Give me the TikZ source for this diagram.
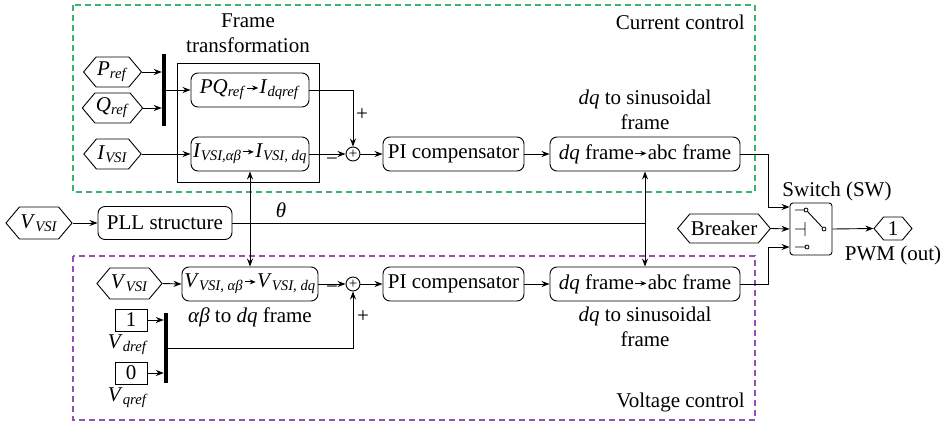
\documentclass[tikz,border=0pt]{standalone}
\usepackage{fontspec}
\setmainfont{Liberation Serif}
\usepackage{tikz}
\usetikzlibrary{shapes, arrows.meta, positioning, calc}
\definecolor{ccgreen}{RGB}{60,180,110}
\definecolor{vcpurple}{RGB}{150,80,180}
\newcommand{\sig}[2]{\textit{#1}\textsubscript{\textit{#2}}}
\newcommand{\tfarrow}{\hspace{1pt}\tikz[baseline=-0.6ex]\draw[-{Stealth[length=6pt,width=5pt]}, line width=0.9pt] (0pt,0pt) -- (11pt,0pt);\hspace{1pt}}

\begin{document}
\begin{tikzpicture}[x=1pt, y=-1pt,
			font=\fontsize{21}{25}\selectfont,
			block/.style={rectangle, draw, rounded corners=7pt, minimum height=34pt, inner sep=1pt, line width=0.9pt},
			port/.style={signal, signal to=east and west, signal pointer angle=100, draw, minimum height=30pt, inner xsep=1pt, inner ysep=0pt, line width=0.9pt},
			mux/.style={rectangle, fill=black, minimum width=4pt, inner sep=0pt},
			sum/.style={circle, draw, minimum size=14pt, inner sep=0pt, line width=0.9pt, font=\fontsize{15}{15}\selectfont},
			const/.style={rectangle, draw, minimum width=32pt, minimum height=22pt, inner sep=0pt, line width=0.9pt},
			lbl/.style={align=center, inner sep=0pt},
			arrow/.style={-{Stealth[length=8pt,width=6pt]}, line width=0.9pt},
			biarrow/.style={{Stealth[length=8pt,width=6pt]}-{Stealth[length=8pt,width=6pt]}, line width=0.9pt}
			]
			\useasboundingbox (0,0) rectangle (945,426);
			
			% Control groups
			\draw[draw=ccgreen, line width=1.2pt, dash pattern=on 6pt off 4pt] (73,5) rectangle (755,192);
			\draw[draw=vcpurple, line width=1.2pt, dash pattern=on 6pt off 4pt] (73,256) rectangle (755,420);
			\node[lbl, anchor=east] (cclbl) at (745,22) {Current control};
			\node[lbl, anchor=east] (vclbl) at (745,402) {Voltage control};
			
			% Frame transformation (current loop)
			\node[draw, line width=0.9pt, minimum width=142pt, minimum height=119pt, inner sep=0pt] (ft) at (248,122.5) {};
			\node[lbl] (ftlbl) at (248,33) {Frame\\transformation};
			\node[port, minimum width=55pt] (pref) at (112.5,72) {\sig{P}{ref}};
			\node[port, minimum width=55pt] (qref) at (112.5,108) {\sig{Q}{ref}};
			\node[mux, minimum height=72pt] (mux1) at (164,90) {};
			\node[block, minimum width=118pt] (pq) at (250,90) {\sig{PQ}{ref}\tfarrow\sig{I}{dqref}};
			\node[port, minimum width=55pt] (ivsi) at (112.5,154) {\sig{I}{VSI}};
			\node[block, minimum width=118pt] (iab) at (250,154) {\sig{I}{VSI,αβ}\tfarrow\sig{I}{VSI, dq}};
			\node[sum] (sum1) at (353,154) {+};
			\node[lbl] (p1) at (362,115) {+};
			\node[lbl] (m1) at (332,162) {−};
			\node[block, minimum width=141pt] (pi1) at (453.5,154) {PI compensator};
			\node[block, minimum width=190pt] (dq1) at (645,154) {\textit{dq} frame\tfarrow abc frame};
			\node[lbl] (dq1lbl) at (645,110) {\textit{dq} to sinusoidal\\frame};
			
			% PLL
			\node[port, minimum width=58pt, minimum height=32pt] (vvsi) at (39,223) {\sig{V}{VSI}};
			\node[block, minimum width=134pt, minimum height=33pt] (pll) at (165,223) {PLL structure};
			\node[lbl] (theta) at (281,210) {\textit{θ}};
			\coordinate (th) at (dq1.south |- pll.east);
			
			% Voltage loop
			\node[port, minimum width=51pt, minimum height=31pt] (vvsi2) at (129.5,283.5) {\sig{V}{VSI}};
			\node[block, minimum width=136pt] (vab) at (250,284) {\sig{V}{VSI, αβ}\tfarrow\sig{V}{VSI, dq}};
			\node[lbl] (ablbl) at (250,317) {\textit{αβ} to \textit{dq} frame};
			\node[sum] (sum2) at (353,284) {+};
			\node[lbl] (m2) at (332,290) {−};
			\node[lbl] (p2) at (363,317) {+};
			\node[block, minimum width=141pt] (pi2) at (453.5,284) {PI compensator};
			\node[block, minimum width=190pt] (dq2) at (645,284) {\textit{dq} frame\tfarrow abc frame};
			\node[lbl] (dq2lbl) at (645,327) {\textit{dq} to sinusoidal\\frame};
			\node[const] (c1) at (131,320) {1};
			\node[lbl] (vd) at (128,345) {\sig{V}{dref}};
			\node[const] (c0) at (131,373) {0};
			\node[lbl] (vq) at (128,398) {\sig{V}{qref}};
			\node[mux, minimum height=70pt] (mux2) at (166,348) {};
			
			% Switch and output
			\node[port, minimum width=87pt, minimum height=29pt] (brk) at (724,228.5) {Breaker};
			\node[draw, rounded corners=3pt, minimum width=42pt, minimum height=52pt, line width=0.9pt] (sw) at (811,229) {};
			\node[lbl] (swlbl) at (837,191) {Switch (SW)};
			\node[port, minimum width=38pt, minimum height=23pt] (out) at (893,228.5) {1};
			\node[lbl] (pwmlbl) at (893,255) {PWM (out)};
			\draw[line width=0.9pt] (795,210) -- (804,210) (807,211) -- (822,227) (795,229) -- (805,229) (805,222) -- (805,236) (795,247) -- (805,247);
			\draw[line width=0.8pt] (806,210) circle (2pt) (824,229) circle (2pt) (807,247) circle (2pt);
			
			% Connections
			\draw[arrow] (pref.east) -- (pref.east -| mux1.west);
			\draw[arrow] (qref.east) -- (qref.east -| mux1.west);
			\draw[arrow] (mux1.east) -- (pq.west);
			\draw[arrow] (pq.east) -| (sum1.north);
			\draw[arrow] (ivsi.east) -- (iab.west);
			\draw[arrow] (iab.east) -- (sum1.west);
			\draw[arrow] (sum1.east) -- (pi1.west);
			\draw[arrow] (pi1.east) -- (dq1.west);
			\draw[arrow] (vvsi.east) -- (pll.west);
			\draw[line width=0.9pt] (pll.east) -- (th);
			\draw[biarrow] (iab.south) -- (vab.north);
			\draw[biarrow] (dq1.south) -- (dq2.north);
			\draw[arrow] (vvsi2.east) -- (vab.west);
			\draw[arrow] (vab.east) -- (sum2.west);
			\draw[arrow] (sum2.east) -- (pi2.west);
			\draw[arrow] (pi2.east) -- (dq2.west);
			\draw[arrow] (c1.east) -- (c1.east -| mux2.west);
			\draw[arrow] (c0.east) -- (c0.east -| mux2.west);
			\draw[arrow] (mux2.east) -| (sum2.south);
			\draw[arrow] (dq1.east) -- ++(28,0) |- ($(sw.west)+(0,-22)$);
			\draw[arrow] (brk.east) -- (sw.west);
			\draw[arrow] (dq2.east) -- ++(28,0) |- ($(sw.west)+(0,18)$);
			\draw[arrow] (sw.east) -- (out.west);
			
		\end{tikzpicture}
\end{document}
